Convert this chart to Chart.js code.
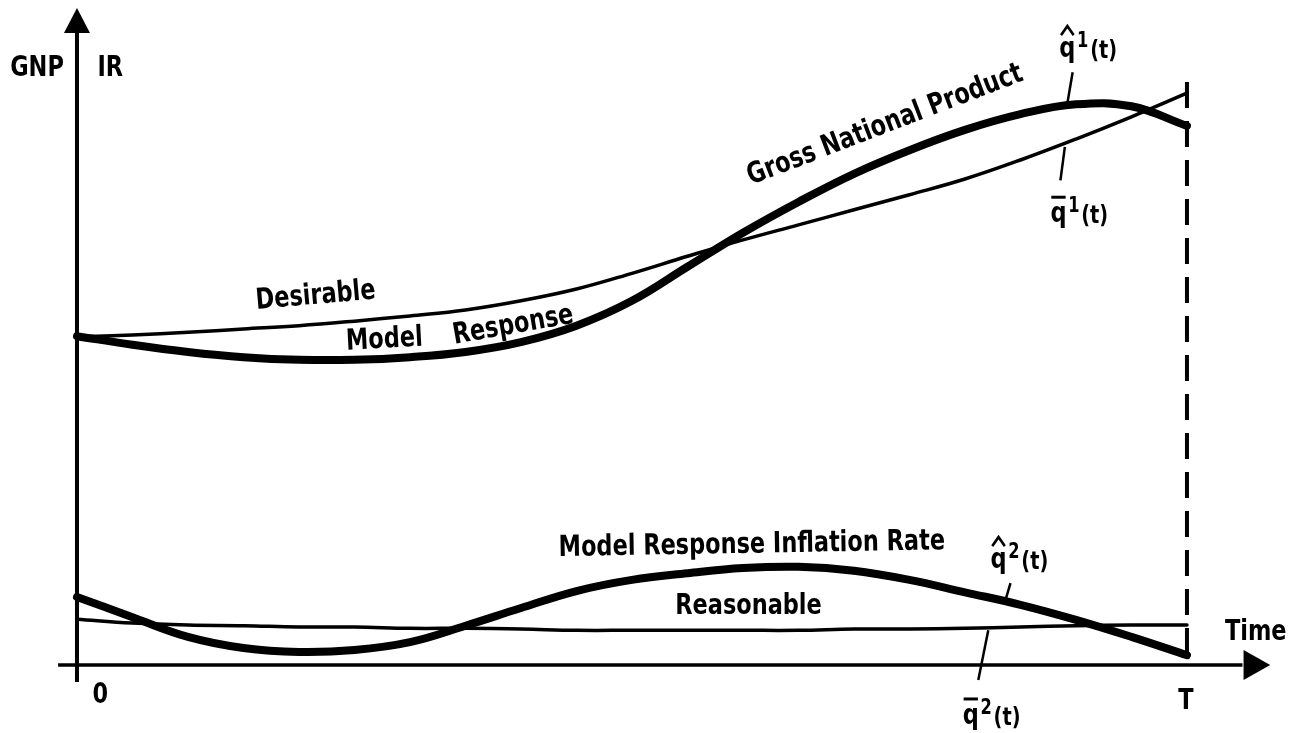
<!DOCTYPE html>
<html>
<head>
<meta charset="utf-8">
<script src="https://cdn.jsdelivr.net/npm/chart.js@4.4.1/dist/chart.umd.min.js"></script>
<style>
  html, body { margin: 0; padding: 0; background: #fff; }
  #wrap { width: 1306px; height: 733px; }
</style>
</head>
<body>
<div id="wrap"><canvas id="diagram" width="1306" height="733"></canvas></div>
<script>
// time axis, 0 .. T (T = 100)
const time = [0, 5, 10, 15, 20, 25, 30, 35, 40, 45, 50, 55, 60, 65, 70, 75, 80, 85, 90, 95, 100];

// GNP: model response (thick) and desirable path (thin)
const gnpModel   = [50.2, 48.9, 47.8, 47.0, 46.6, 46.6, 47.0, 47.8, 49.3, 51.8, 55.6, 60.8, 66.0, 70.7, 75.0, 78.6, 81.7, 84.1, 85.6, 85.3, 82.3];
const gnpDesired = [50.1, 50.4, 50.8, 51.3, 51.8, 52.5, 53.3, 54.2, 55.6, 57.4, 59.8, 62.4, 64.9, 67.2, 69.5, 71.8, 74.2, 77.1, 80.3, 83.7, 87.3];

// inflation rate: model response (thick) and reasonable path (thin)
const irModel      = [10.4, 7.3, 4.3, 2.6, 2.0, 2.3, 3.5, 6.0, 8.7, 11.3, 13.0, 14.0, 14.8, 15.0, 14.4, 13.0, 11.1, 9.2, 6.9, 4.3, 1.5];
const irReasonable = [7.0, 6.4, 6.1, 6.0, 5.8, 5.8, 5.6, 5.6, 5.5, 5.3, 5.3, 5.3, 5.3, 5.3, 5.5, 5.5, 5.6, 5.8, 6.0, 6.1, 6.1];

const FONT = '"DejaVu Sans Condensed", "DejaVu Sans", sans-serif';
const SQUEEZE = 0.86; // narrow the bold face a little, like the condensed original

const pts = arr => arr.map((v, i) => ({ x: time[i], y: v }));

function line(data, width) {
  return {
    data: pts(data),
    borderColor: '#000',
    borderWidth: width,
    pointRadius: 0,
    fill: false,
    tension: 0.4,
    borderCapStyle: 'round'
  };
}

// text labels, in data coordinates (x, y = centre), rotation in degrees
const labels = [
  { t: 'GNP', x: -3.6, y: 91.0, r: 0 },
  { t: 'IR', x: 3.0, y: 91.0, r: 0 },
  { t: 'Desirable', x: 21.5, y: 56.3, r: -5 },
  { t: 'Model', x: 27.7, y: 49.6, r: -3 },
  { t: 'Response', x: 39.3, y: 51.8, r: -10 },
  { t: 'Gross National Product', x: 72.8, y: 82.4, r: -21 },
  { t: 'Model Response Inflation Rate', x: 60.8, y: 18.3, r: -1 },
  { t: 'Reasonable', x: 60.5, y: 8.9, r: 0 },
  { t: 'Time', x: 106.2, y: 5.0, r: 0 },
  { t: '0', x: 2.1, y: -4.7, r: 0 },
  { t: 'T', x: 99.9, y: -5.5, r: 0 }
];

// q-symbols: left edge + baseline, with hat or bar, and a leader line
const qLabels = [
  { mark: 'hat', sup: '1', x: 88.5, y: 92.8, lead: [89.7, 90.5, 89.2, 85.5] },
  { mark: 'bar', sup: '1', x: 87.7, y: 67.6, lead: [89.0, 79.1, 88.6, 74.0] },
  { mark: 'hat', sup: '2', x: 82.3, y: 14.8, lead: [84.1, 12.5, 83.7, 10.2] },
  { mark: 'bar', sup: '2', x: 79.8, y: -9.0, lead: [82.1, 5.3, 81.2, -2.3] }
];

const diagram = {
  id: 'diagram',
  afterDraw(chart) {
    const ctx = chart.ctx;
    const xs = chart.scales.x, ys = chart.scales.y;
    const X = v => xs.getPixelForValue(v), Y = v => ys.getPixelForValue(v);
    ctx.save();
    ctx.strokeStyle = '#000';
    ctx.fillStyle = '#000';

    // axes
    ctx.lineWidth = 4;
    ctx.beginPath();
    ctx.moveTo(X(0), Y(-2.6));
    ctx.lineTo(X(0), Y(98));
    ctx.stroke();
    ctx.lineWidth = 3.5;
    ctx.beginPath();
    ctx.moveTo(X(-1.7), Y(0));
    ctx.lineTo(X(105), Y(0));
    ctx.stroke();

    // arrow heads
    ctx.beginPath();
    ctx.moveTo(X(0), Y(100.3));
    ctx.lineTo(X(0) - 13, Y(96.5));
    ctx.lineTo(X(0) + 13, Y(96.5));
    ctx.closePath();
    ctx.fill();
    ctx.beginPath();
    ctx.moveTo(X(107.5), Y(0));
    ctx.lineTo(X(105.1), Y(0) - 15);
    ctx.lineTo(X(105.1), Y(0) + 15);
    ctx.closePath();
    ctx.fill();

    // dashed line at T
    ctx.lineWidth = 4;
    ctx.setLineDash([26, 13]);
    ctx.beginPath();
    ctx.moveTo(X(100), Y(89));
    ctx.lineTo(X(100), Y(0));
    ctx.stroke();
    ctx.setLineDash([]);

    // labels
    ctx.textAlign = 'center';
    ctx.textBaseline = 'middle';
    labels.forEach(l => {
      ctx.save();
      ctx.translate(X(l.x), Y(l.y));
      ctx.rotate(l.r * Math.PI / 180);
      ctx.scale(SQUEEZE, 1);
      ctx.font = 'bold 29px ' + FONT;
      ctx.fillText(l.t, 0, 0);
      ctx.restore();
    });

    // q symbols
    ctx.textAlign = 'left';
    ctx.textBaseline = 'alphabetic';
    qLabels.forEach(q => {
      ctx.save();
      ctx.translate(X(q.x), Y(q.y));
      ctx.scale(SQUEEZE, 1);
      ctx.font = 'bold 29px ' + FONT;
      ctx.fillText('q', 0, 0);
      const qw = ctx.measureText('q').width;
      ctx.lineWidth = 3;
      ctx.beginPath();
      if (q.mark === 'hat') {
        ctx.moveTo(2, -22);
        ctx.lineTo(qw / 2, -31);
        ctx.lineTo(qw - 2, -22);
      } else {
        ctx.moveTo(1, -25);
        ctx.lineTo(qw - 1, -25);
      }
      ctx.stroke();
      ctx.font = 'bold 21px ' + FONT;
      ctx.fillText(q.sup, qw + 2, -10);
      const sw = ctx.measureText(q.sup).width;
      ctx.font = 'bold 25px ' + FONT;
      ctx.fillText('(t)', qw + sw + 4, 1);
      ctx.restore();
      ctx.lineWidth = 2.5;
      ctx.beginPath();
      ctx.moveTo(X(q.lead[0]), Y(q.lead[1]));
      ctx.lineTo(X(q.lead[2]), Y(q.lead[3]));
      ctx.stroke();
    });
    ctx.restore();
  }
};

new Chart(document.getElementById('diagram').getContext('2d'), {
  type: 'line',
  data: {
    datasets: [
      line(gnpModel, 8),
      line(gnpDesired, 3.5),
      line(irModel, 8),
      line(irReasonable, 3.5)
    ]
  },
  options: {
    responsive: false,
    animation: false,
    layout: { padding: { left: 60, right: 41, top: 10, bottom: 33 } },
    plugins: { legend: { display: false }, tooltip: { enabled: false } },
    scales: {
      x: { type: 'linear', display: false, min: -1.53, max: 107.03 },
      y: { type: 'linear', display: false, min: -5.34, max: 100 }
    }
  },
  plugins: [diagram]
});
</script>
</body>
</html>
